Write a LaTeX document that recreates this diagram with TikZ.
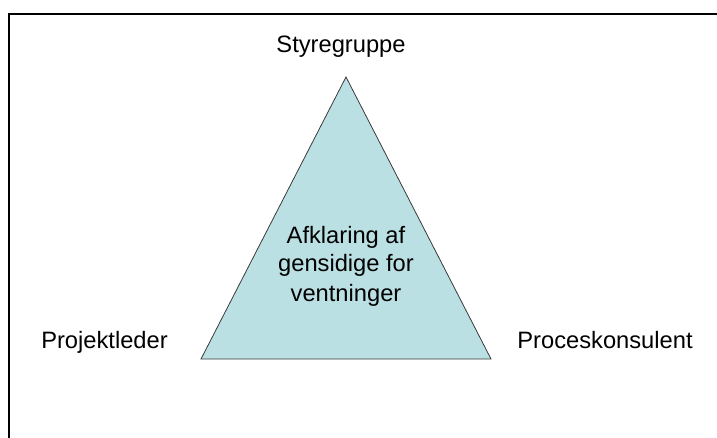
\documentclass[tikz,border=0pt]{standalone}
\usepackage{fontspec}
\setmainfont{Liberation Sans}
\definecolor{trifill}{HTML}{BBE0E3}
\definecolor{triline}{HTML}{3A3A3A}
\begin{document}
\begin{tikzpicture}[x=1pt,y=-1pt,
  lbl/.style={anchor=base,inner sep=0pt,font=\fontsize{23.7}{29}\selectfont},
  frameline/.style={line width=2pt,black},
  tri/.style={fill=trifill,draw=triline,line width=0.8pt,line join=miter}]
  \useasboundingbox (0,0) rectangle (717,438);
  % frame along the top and left edges
  \coordinate (ftr) at (717,14);
  \coordinate (ftl) at (9,14);
  \coordinate (fbl) at (9,438);
  \draw[frameline] (ftr) -- (ftl) -- (fbl);
  % the triangle
  \coordinate (apex) at (346,77);
  \coordinate (bl) at (201,359);
  \coordinate (br) at (491,359);
  \draw[tri] (apex) -- (bl) -- (br) -- cycle;
  % corner labels
  \node[lbl] (top) at (341,53) {Styregruppe};
  \node[lbl] (left) at (104.5,348) {Projektleder};
  \node[lbl] (right) at (605,348) {Proceskonsulent};
  % centre text (base anchor sits on the last line)
  \node[lbl,align=center,anchor=base] (mid) at (346,301)
    {Afklaring af\\gensidige for\\ventninger};
\end{tikzpicture}
\end{document}
